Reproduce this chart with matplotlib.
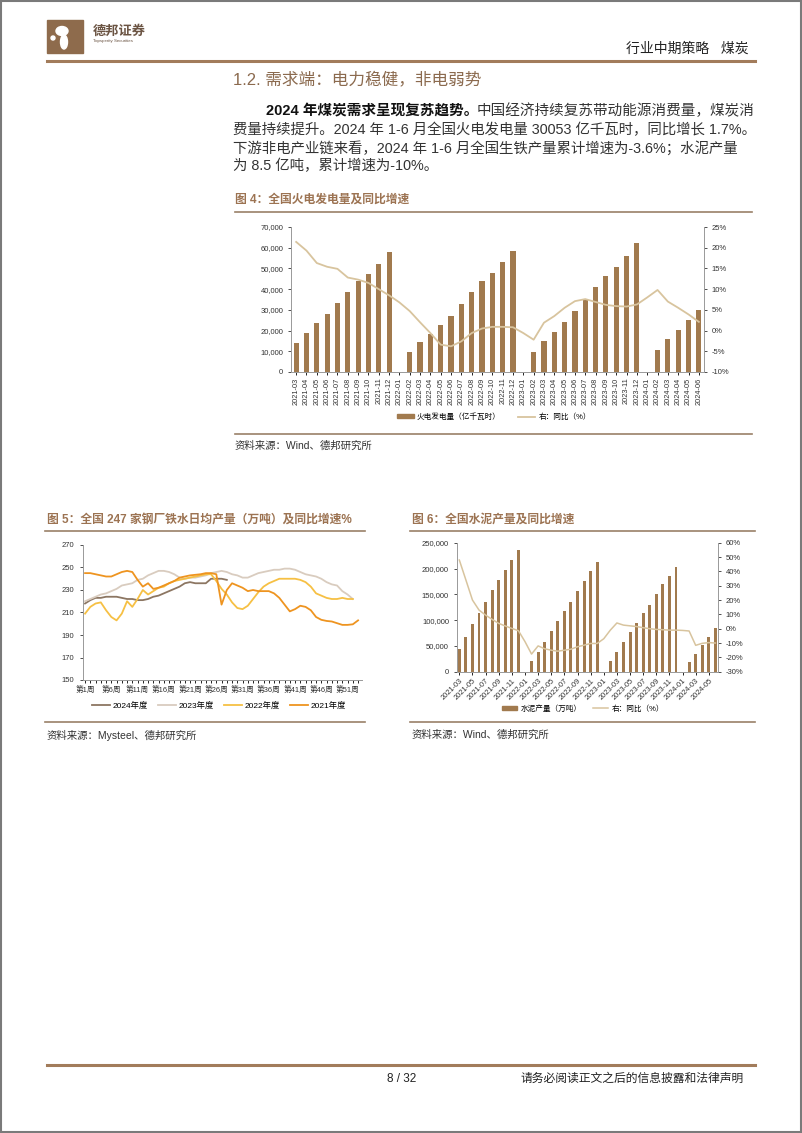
import numpy as np
import pandas as pd
import matplotlib
matplotlib.use("Agg")
import matplotlib.pyplot as plt
from matplotlib.lines import Line2D
from matplotlib.patches import Rectangle, Patch, Ellipse
from matplotlib.ticker import FuncFormatter, MultipleLocator

plt.rcParams['font.family'] = ['Liberation Sans', 'Noto Sans CJK SC']
plt.rcParams['axes.unicode_minus'] = False

nan = np.nan

# ---- data ----
months = [p.strftime('%Y-%m') for p in pd.period_range('2021-03', '2024-06', freq='M')]

# 图4 火电发电量 (亿千瓦时, 累计) & 同比 (%)
power_gen = [14000, 18800, 23500, 28000, 33500, 38700, 43800, 47500, 52200, 57700,
             nan, 9600, 14300, 18500, 22500, 26900, 32700, 38700, 43700, 48000, 52900, 58600,
             nan, 9800, 15000, 19300, 24000, 29300, 35100, 41200, 46300, 50800, 56200, 62100,
             nan, 10600, 15900, 20300, 25100, 29900]
power_yoy = [21.4, 19.3, 16.3, 15.4, 14.9, 12.8, 12.3, 11.5, 10.0, 8.5,
             6.8, 4.7, 2.0, -0.6, -3.4, -3.8, -2.6, -0.6, 0.5, 0.9, 0.9, 0.8,
             -0.6, -2.2, 1.9, 3.5, 5.5, 7.1, 7.6, 6.9, 6.2, 5.9, 5.8, 6.3,
             8.0, 9.8, 7.0, 5.5, 3.9, 2.1]

# 图5 铁水日均产量 (万吨)
weeks = list(range(1, 54))
week_ticks = [1, 6, 11, 16, 21, 26, 31, 36, 41, 46, 51]
iron_ticks = [150, 170, 190, 210, 230, 250, 270]
iron_2024 = [218, 221, 223, 223, 224, 224, 224, 223, 222, 222,
             221, 221, 222, 224, 225, 227, 229, 231, 233, 236,
             237, 236, 236, 236, 240, 240, 240, 239]
iron_2023 = [220, 222, 224, 226, 227, 229, 231, 234, 235, 236,
             239, 240, 243, 245, 247, 247, 246, 244, 241, 240,
             241, 241, 242, 243, 245, 246, 247, 246, 244, 243,
             241, 241, 243, 245, 246, 247, 248, 248, 249, 249,
             248, 246, 244, 243, 242, 240, 237, 235, 234, 229,
             226, 222]
iron_2022 = [209, 215, 218, 219, 212, 206, 203, 209, 220, 215,
             222, 230, 226, 229, 232, 233, 236, 238, 239, 240,
             241, 242, 243, 244, 244, 238, 231, 226, 219, 214,
             213, 216, 222, 228, 233, 236, 238, 240, 240, 240,
             240, 239, 237, 233, 227, 225, 223, 222, 222, 223,
             222, 222]
iron_2021 = [245, 245, 244, 243, 242, 242, 244, 246, 247, 246,
             239, 233, 236, 231, 232, 234, 236, 238, 241, 242,
             243, 243.5, 244, 245, 245, 244, 217, 230, 236, 234,
             232, 229, 230, 229, 229, 229, 227, 223, 217, 211,
             213, 216, 215, 212, 206, 203.5, 202.5, 202, 200.5, 199,
             199, 199.5, 203]
iron_series = [('2024年度', iron_2024, '#8C7662'),
               ('2023年度', iron_2023, '#D9CCBF'),
               ('2022年度', iron_2022, '#F6C044'),
               ('2021年度', iron_2021, '#EE9420')]

# 图6 水泥产量 (万吨, 累计) & 同比 (%)
cement = [44000, 68000, 92000, 114000, 136000, 158000, 178000, 197000, 217000, 236000,
          nan, 20000, 38000, 58000, 78000, 98000, 117000, 135000, 156000, 175000, 195000, 212000,
          nan, 21000, 39000, 58000, 76000, 95000, 113000, 130000, 150000, 169000, 186000, 202000,
          nan, 18000, 34000, 51000, 68000, 85000]
cement_yoy = [47.9, 34.0, 20.0, 13.0, 9.5, 6.5, 3.7, 1.9, 0.2, -1.4,
              -9.0, -17.7, -12.0, -14.0, -15.0, -15.7, -15.0, -14.3, -12.6, -11.5, -10.3, -10.3,
              -7.0, -1.0, 4.0, 2.5, 2.0, 1.5, 0.7, 0.0, -0.5, -0.7, -1.0, -1.0,
              -1.2, -1.6, -11.6, -10.2, -9.7, -10.0]

BROWN = '#A27C5B'
TITLE = '#9C7352'
BAR = '#A17A4E'
YOY = '#D8C49E'
TXT = '#333333'

W, H = 802, 1133
fig = plt.figure(figsize=(8.02, 11.33), dpi=100)


def fx(x):
    return x / W


def fy(y):
    return 1 - y / H


def rect(x0, y0, x1, y1):
    return [x0 / W, 1 - y1 / H, (x1 - x0) / W, (y1 - y0) / H]


def hline(y, x0, x1, color=BROWN, lw=2.0):
    fig.add_artist(Line2D([fx(x0), fx(x1)], [fy(y), fy(y)], color=color, lw=lw))


def text(x, y, s, **kw):
    kw.setdefault('va', 'center')
    kw.setdefault('color', TXT)
    fig.text(fx(x), fy(y), s, **kw)


def style_spines(ax, visible, color='#999999'):
    for s in ['top', 'right', 'left', 'bottom']:
        ax.spines[s].set_visible(s in visible)
        ax.spines[s].set_color(color)
        ax.spines[s].set_linewidth(0.7)


# page frame
fig.add_artist(Rectangle((0.0008, 0.0006), 0.9984, 0.9988, fill=False, ec='#7a7a7a', lw=1.5))

# header
fig.add_artist(Rectangle((fx(47), fy(53)), 36 / W, 33 / H, color='#8E6B4C'))
fig.add_artist(Ellipse((fx(62), fy(31)), 12 / W, 9 / H, color='white'))
fig.add_artist(Ellipse((fx(64), fy(42)), 7 / W, 14 / H, color='white'))
fig.add_artist(Ellipse((fx(53), fy(38)), 4 / W, 4 / H, color='white'))
text(93, 32, '德邦证券', fontsize=9.5, fontweight='bold', color='#6b5443')
text(93, 41, 'Topsperity Securities', fontsize=3.2, color='#6b5443')
text(749, 49, '行业中期策略   煤炭', fontsize=10, ha='right', color='#222222')
hline(61, 47, 755, lw=2.2)

text(233, 79, '1.2. 需求端：电力稳健，非电弱势', fontsize=12, color='#8B6A4E')
text(266, 111, '2024 年煤炭需求呈现复苏趋势。', fontsize=10.5, fontweight='bold', color='#111111')
text(477, 111, '中国经济持续复苏带动能源消费量，煤炭消', fontsize=10.5)
text(233, 129.5, '费量持续提升。2024 年 1-6 月全国火电发电量 30053 亿千瓦时，同比增长 1.7%。', fontsize=10.4)
text(233, 148, '下游非电产业链来看，2024 年 1-6 月全国生铁产量累计增速为-3.6%；水泥产量', fontsize=10.4)
text(233, 166, '为 8.5 亿吨，累计增速为-10%。', fontsize=10.4)

# ---- 图4 ----
text(235, 200, '图 4：全国火电发电量及同比增速', fontsize=8.5, fontweight='bold', color=TITLE)
hline(212, 235, 752, color='#9A8068', lw=1.2)

x = np.arange(len(months))
ax4 = fig.add_axes(rect(291, 227, 704, 372))
ax4.bar(x, power_gen, width=0.5, color=BAR)
ax4.set_xlim(-0.5, len(months) - 0.5)
ax4.set_ylim(0, 70000)
ax4.yaxis.set_major_locator(MultipleLocator(10000))
ax4.yaxis.set_major_formatter(FuncFormatter(lambda v, p: f'{v:,.0f}'))
ax4.set_xticks(x)
ax4.set_xticklabels(months, rotation=90, fontsize=5.3, color=TXT)
ax4.tick_params(axis='y', labelsize=5.5, colors=TXT, length=2, width=0.6)
ax4.tick_params(axis='x', length=2, width=0.6, pad=2)
style_spines(ax4, ['left', 'bottom'])
ax4r = ax4.twinx()
ax4r.plot(x, power_yoy, color=YOY, lw=1.3)
ax4r.set_ylim(-10, 25)
ax4r.yaxis.set_major_locator(MultipleLocator(5))
ax4r.yaxis.set_major_formatter(FuncFormatter(lambda v, p: f'{v:.0f}%'))
ax4r.tick_params(axis='y', labelsize=5.5, colors=TXT, length=2, width=0.6)
style_spines(ax4r, ['right'])
ax4.legend([Patch(color=BAR), Line2D([], [], color=YOY, lw=1.3)],
           ['火电发电量（亿千瓦时）', '右：同比（%）'],
           loc='center', bbox_to_anchor=(fx(494), fy(417)), bbox_transform=fig.transFigure,
           ncol=2, frameon=False, fontsize=5.5, handlelength=2.2, handleheight=0.5,
           columnspacing=2.3, handletextpad=0.4)
hline(434, 235, 752, color='#9A8068', lw=1.2)
text(235, 446, '资料来源：Wind、德邦研究所', fontsize=7.5)

# ---- 图5 ----
text(47, 520, '图 5：全国 247 家钢厂铁水日均产量（万吨）及同比增速%', fontsize=8.5, fontweight='bold', color=TITLE)
hline(531, 45, 365, color='#9A8068', lw=1.2)
ax5 = fig.add_axes(rect(82.7, 545, 362, 680))
for name, vals, col in iron_series:
    ax5.plot(weeks[:len(vals)], vals, color=col, lw=1.3, label=name)
ax5.set_xlim(0.55, 53.75)
ax5.set_ylim(150, 270)
ax5.set_yticks(iron_ticks)
ax5.set_xticks(week_ticks)
ax5.set_xticklabels([f'第{w}周' for w in week_ticks], fontsize=5.5, color=TXT)
ax5.set_xticks(weeks, minor=True)
ax5.tick_params(axis='y', labelsize=5.5, colors=TXT, length=2, width=0.6, pad=4)
ax5.tick_params(axis='x', which='both', length=2, width=0.6, pad=2)
style_spines(ax5, ['left', 'bottom'])
ax5.legend(loc='center', bbox_to_anchor=(fx(219), fy(706)), bbox_transform=fig.transFigure,
           ncol=4, frameon=False, fontsize=6, handlelength=2.2, columnspacing=1.2, handletextpad=0.3)
hline(722, 45, 365, color='#9A8068', lw=1.2)
text(47, 735, '资料来源：Mysteel、德邦研究所', fontsize=7.5)

# ---- 图6 ----
text(412, 520, '图 6：全国水泥产量及同比增速', fontsize=8.5, fontweight='bold', color=TITLE)
hline(531, 410, 755, color='#9A8068', lw=1.2)
ax6 = fig.add_axes(rect(456.7, 542.7, 718, 671.7))
ax6.bar(x, cement, width=0.45, color=BAR)
ax6.set_xlim(-0.4, len(months) - 0.6)
ax6.set_ylim(0, 250000)
ax6.yaxis.set_major_locator(MultipleLocator(50000))
ax6.yaxis.set_major_formatter(FuncFormatter(lambda v, p: f'{v:,.0f}'))
ax6.set_xticks(x[::2])
ax6.set_xticklabels(months[::2], rotation=45, ha='right', rotation_mode='anchor', fontsize=5.3, color=TXT)
ax6.tick_params(axis='y', labelsize=5.5, colors=TXT, length=2, width=0.6)
ax6.tick_params(axis='x', length=2, width=0.6, pad=2)
style_spines(ax6, ['left', 'bottom'])
ax6r = ax6.twinx()
ax6r.plot(x, cement_yoy, color=YOY, lw=1.1)
ax6r.set_ylim(-30, 60)
ax6r.yaxis.set_major_locator(MultipleLocator(10))
ax6r.yaxis.set_major_formatter(FuncFormatter(lambda v, p: f'{v:.0f}%'))
ax6r.tick_params(axis='y', labelsize=5.5, colors=TXT, length=2, width=0.6)
style_spines(ax6r, ['right'])
ax6.legend([Patch(color=BAR), Line2D([], [], color=YOY, lw=1.1)],
           ['水泥产量（万吨）', '右：同比（%）'],
           loc='center', bbox_to_anchor=(fx(583), fy(709)), bbox_transform=fig.transFigure,
           ncol=2, frameon=False, fontsize=5.5, handlelength=2.0, handleheight=0.5,
           columnspacing=1.5, handletextpad=0.4)
hline(722, 410, 755, color='#9A8068', lw=1.2)
text(412, 735, '资料来源：Wind、德邦研究所', fontsize=7.5)

# footer
hline(1065, 47, 755, lw=2.2)
text(402, 1079, '8 / 32', fontsize=8.5, ha='center', color='#222222')
text(744, 1079, '请务必阅读正文之后的信息披露和法律声明', fontsize=8.5, ha='right', color='#222222')

fig.savefig('out.png', dpi=100, facecolor='white')
